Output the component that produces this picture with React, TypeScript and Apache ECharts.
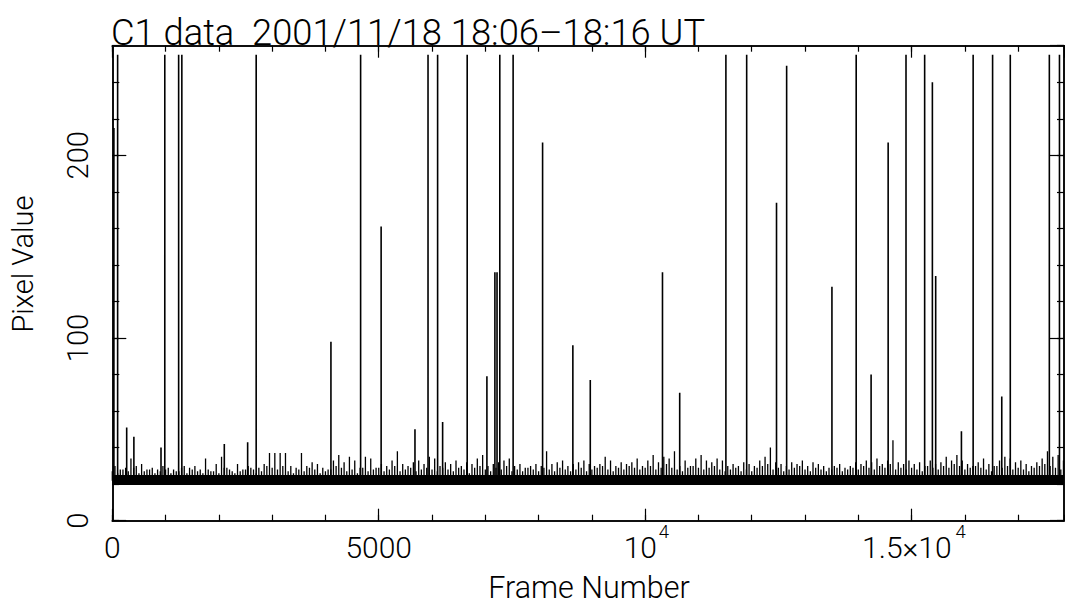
import React, { useEffect, useRef } from "react";
import * as echarts from "echarts";

// ---- axis ranges & ticks ----
const X_MIN = 0;
const X_MAX = 17860;
const Y_MIN = 0;
const Y_MAX = 260;
// plain tick labels
const xPlainTicks = [0, 5000];
const xPlainLabels = ["0", "5000"];
// tick labels written as mantissa × 10^exponent
const xPowerTicks = [10000, 15000];
const xMantissas = ["10", "1.5×10"];
const xExponents = ["4", "4"];
const yTickLabels = ["0", "100", "200"];

const titleText = "C1 data  2001/11/18 18:06–18:16 UT";
const xTitle = "Frame Number";
const yTitle = "Pixel Value";

// ---- data ----
// dense noise band (solid part) limits
const bandLow = 19.6;
const bandHigh = 25;
const baseLevel = 22;
// per 100-frame bin maximum of the background noise (at bin centres)
const binWidth = 100;
const noiseTops = [
  30, 28, 29, 34, 30, 31, 28, 29, 28, 30,
  29, 28, 27, 30, 29, 30, 28, 34, 27, 31,
  35, 29, 27, 31, 28, 30, 28, 29, 31, 37,
  37, 37, 37, 30, 29, 37, 30, 32, 31, 29,
  28, 33, 36, 32, 35, 33, 29, 35, 34, 29,
  31, 30, 33, 38, 31, 30, 32, 33, 31, 35,
  34, 30, 32, 31, 33, 30, 32, 31, 34, 36,
  30, 31, 32, 33, 34, 30, 31, 29, 30, 31,
  30, 38, 31, 32, 33, 30, 31, 32, 33, 31,
  30, 31, 35, 33, 30, 32, 31, 32, 34, 30,
  33, 36, 32, 35, 34, 38, 30, 33, 30, 34,
  36, 33, 32, 34, 33, 30, 31, 30, 32, 31,
  30, 33, 35, 40, 32, 31, 30, 32, 31, 33,
  30, 32, 31, 30, 29, 30, 31, 29, 30, 32,
  31, 33, 32, 34, 31, 33, 44, 32, 31, 33,
  31, 32, 30, 33, 31, 32, 35, 33, 36, 33,
  31, 30, 32, 34, 31, 30, 33, 35, 34, 32,
  33, 31, 30, 32, 34, 38, 35, 36, 33,
];
// secondary noise level at bin starts
const noiseLows = [
  27, 26, 28, 27, 29, 26, 27, 28, 26, 27,
  28, 26, 27, 29, 26, 28, 27, 26, 28, 27,
  26, 29, 28, 26, 27, 28, 29, 26, 27, 30,
  29, 28, 30, 27, 26, 28, 27, 29, 28, 26,
  27, 28, 30, 29, 27, 28, 26, 29, 27, 28,
  29, 27, 28, 30, 27, 28, 29, 27, 28, 29,
  28, 27, 29, 28, 27, 29, 28, 26, 29, 30,
  28, 27, 29, 28, 30, 27, 28, 27, 29, 28,
  27, 29, 28, 27, 29, 28, 27, 28, 29, 27,
  28, 29, 30, 28, 27, 29, 28, 30, 29, 28,
  29, 30, 28, 29, 31, 29, 28, 27, 29, 30,
  29, 28, 29, 30, 28, 27, 28, 29, 27, 28,
  27, 29, 30, 31, 28, 29, 27, 28, 29, 30,
  28, 27, 29, 28, 27, 28, 29, 27, 28, 29,
  28, 30, 29, 28, 30, 29, 31, 28, 29, 28,
  29, 28, 27, 30, 29, 28, 30, 29, 31, 30,
  28, 29, 30, 29, 28, 27, 30, 29, 30, 28,
  29, 28, 27, 29, 30, 31, 30, 29, 28,
];
// isolated spikes (cosmic-ray hits)
const spikeFrames = [
  30, 100, 270, 405, 914, 985, 1245, 1305, 2102, 2540,
  2700, 4103, 4660, 5045, 5680, 5925, 6105, 6199, 6660, 7030,
  7180, 7220, 7272, 7522, 8075, 8643, 8970, 10325, 10648, 11515,
  11905, 12465, 12655, 13505, 13960, 14240, 14560, 14895, 15245, 15390,
  15452, 15935, 16155, 16520, 16692, 16852, 17585, 17775,
];
const spikeValues = [
  215, 255, 51, 46, 40, 255, 255, 255, 42, 43,
  255, 98, 255, 161, 50, 255, 255, 54, 255, 79,
  136, 136, 255, 255, 207, 96, 77, 136, 70, 255,
  255, 174, 249, 128, 255, 80, 207, 255, 255, 240,
  134, 49, 255, 255, 68, 255, 255, 255,
];

const FONT = "Roboto, 'Liberation Sans', Arial, sans-serif";
const FW = 300;

function toStems(points: [number, number][]): [number, number][] {
  const out: [number, number][] = [];
  points
    .slice()
    .sort((a, b) => a[0] - b[0])
    .forEach(([f, v]) => {
      out.push([f, baseLevel], [f, v], [f, baseLevel]);
    });
  return out;
}

export default function App() {
  const ref = useRef<HTMLDivElement>(null);

  useEffect(() => {
    if (!ref.current) return;
    const chart = echarts.init(ref.current, undefined, { renderer: "svg" });

    const noisePts: [number, number][] = [];
    noiseTops.forEach((v, i) => noisePts.push([i * binWidth + binWidth / 2, v]));
    noiseLows.forEach((v, i) => noisePts.push([i * binWidth, v]));
    const spikePts: [number, number][] = spikeFrames.map((f, i) => [f, spikeValues[i]]);

    const lineStyle = { color: "#000", width: 1.5 };
    const tickStyle = { color: "#000", width: 1.2 };
    const mkX = (
      pos: "top" | "bottom",
      interval: number,
      len: number,
      label: any,
      showLine = true
    ) => ({
      type: "value",
      min: X_MIN,
      max: X_MAX,
      interval,
      position: pos,
      axisLine: { show: showLine, onZero: false, lineStyle },
      axisTick: { show: len > 0, inside: true, length: len, lineStyle: tickStyle },
      splitLine: { show: false },
      axisLabel: label || { show: false },
    });
    const mkY = (pos: "left" | "right", interval: number, len: number, labels: boolean) => ({
      type: "value",
      min: Y_MIN,
      max: Y_MAX,
      interval,
      position: pos,
      axisLine: { show: true, onZero: false, lineStyle },
      axisTick: { show: true, inside: true, length: len, lineStyle: tickStyle },
      splitLine: { show: false },
      axisLabel: labels
        ? {
            show: true,
            rotate: 90,
            margin: 20,
            color: "#000",
            fontFamily: FONT,
            fontWeight: FW,
            fontSize: 29,
            showMaxLabel: false,
            formatter: (v: number) => {
              const s = String(v);
              return yTickLabels.indexOf(s) >= 0 ? s : "";
            },
          }
        : { show: false },
    });

    const baseLabel = {
      show: true,
      color: "#000",
      fontFamily: FONT,
      fontWeight: FW,
      showMaxLabel: false,
    };
    const plainLabel = {
      ...baseLabel,
      margin: 12,
      fontSize: 30,
      formatter: (v: number) => {
        const i = xPlainTicks.indexOf(v);
        return i >= 0 ? xPlainLabels[i] : "";
      },
    };
    const mantissaLabel = {
      ...baseLabel,
      margin: 12,
      fontSize: 30,
      padding: [0, 9.6, 0, 0],
      formatter: (v: number) => {
        const i = xPowerTicks.indexOf(v);
        return i >= 0 ? xMantissas[i] : "";
      },
    };
    const expLabel = (k: number, shift: number) => ({
      ...baseLabel,
      margin: 1.5,
      fontSize: 18.5,
      padding: [0, 0, 0, shift],
      formatter: (v: number) => (v === xPowerTicks[k] ? xExponents[k] : ""),
    });

    chart.setOption({
      animation: false,
      backgroundColor: "#fff",
      title: {
        text: titleText,
        left: 111,
        top: 14,
        padding: 0,
        textStyle: { fontFamily: FONT, fontSize: 36.3, fontWeight: FW, color: "#000" },
      },
      grid: { left: 112.3, top: 45.7, right: 1, bottom: 83.3, containLabel: false },
      xAxis: [
        mkX("bottom", 5000, 12, plainLabel),
        mkX("bottom", 1000, 6, null),
        mkX("top", 5000, 12, null),
        mkX("top", 1000, 6, null),
        mkX("bottom", 5000, 0, mantissaLabel, false),
        mkX("bottom", 5000, 0, expLabel(0, 37.4), false),
        mkX("bottom", 5000, 0, expLabel(1, 98), false),
      ],
      yAxis: [
        mkY("left", 100, 14, true),
        mkY("left", 20, 7, false),
        mkY("right", 100, 14, false),
        mkY("right", 20, 7, false),
      ],
      graphic: [
        {
          type: "text",
          x: 589,
          y: 587,
          style: {
            text: xTitle,
            fontFamily: FONT,
            fontWeight: FW,
            fontSize: 30.5,
            fill: "#000",
            align: "center",
            verticalAlign: "middle",
          },
        },
        {
          type: "text",
          x: 23,
          y: 264,
          rotation: Math.PI / 2,
          style: {
            text: yTitle,
            fontFamily: FONT,
            fontWeight: FW,
            fontSize: 29,
            fill: "#000",
            align: "center",
            verticalAlign: "middle",
          },
        },
      ],
      series: [
        {
          name: "noise",
          type: "line",
          xAxisIndex: 0,
          yAxisIndex: 0,
          data: toStems(noisePts),
          showSymbol: false,
          symbol: "none",
          lineStyle: { color: "#000", width: 1.3 },
          markArea: {
            silent: true,
            itemStyle: { color: "#000" },
            data: [[{ xAxis: X_MIN, yAxis: bandLow }, { xAxis: X_MAX, yAxis: bandHigh }]],
          },
        },
        {
          name: "spikes",
          type: "line",
          xAxisIndex: 0,
          yAxisIndex: 0,
          data: toStems(spikePts),
          showSymbol: false,
          symbol: "none",
          lineStyle: { color: "#000", width: 1.6 },
        },
      ],
    });

    return () => chart.dispose();
  }, []);

  return (
    <div
      ref={ref}
      style={{ position: "fixed", left: 0, top: 0, width: 1065, height: 604, background: "#fff" }}
    />
  );
}
